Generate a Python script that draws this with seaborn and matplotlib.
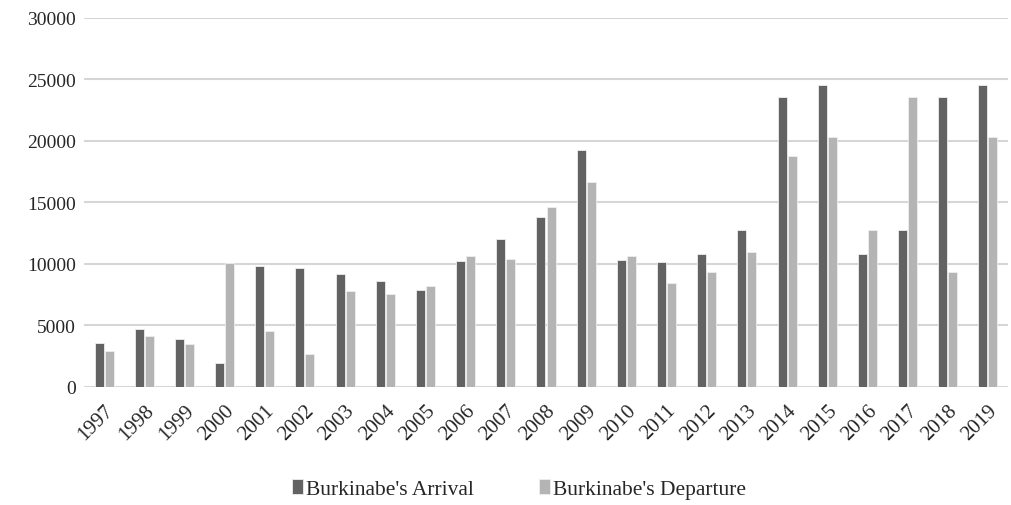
import matplotlib
matplotlib.use("Agg")
import matplotlib.pyplot as plt
import seaborn as sns
import pandas as pd

years = [str(y) for y in range(1997, 2020)]
arrivals = [3530, 4700, 3850, 1900, 9770, 9640, 9120, 8580, 7870, 10180, 11970,
            13820, 19270, 10260, 10150, 10750, 12760, 23530, 24560, 10750, 12760,
            23530, 24560]
departures = [2930, 4100, 3420, 10040, 4530, 2660, 7760, 7550, 8220, 10610, 10420,
              14580, 16670, 10640, 8440, 9340, 10940, 18730, 20300, 12760, 23530,
              9340, 20300]
series_names = ["Burkinabe's Arrival", "Burkinabe's Departure"]
colors = ["#626262", "#b4b4b4"]

df = pd.DataFrame({
    "year": years * 2,
    "value": arrivals + departures,
    "series": [series_names[0]] * len(years) + [series_names[1]] * len(years),
})

sns.set_theme(style="white")
plt.rcParams["font.family"] = ["Liberation Serif", "DejaVu Serif"]

fig = plt.figure(figsize=(10.12, 5.06), dpi=100)
ax = fig.add_axes([84 / 1012, 1 - 387.5 / 506, (1008 - 84) / 1012, (387.5 - 19) / 506])

sns.barplot(data=df, x="year", y="value", hue="series", palette=colors,
            width=0.5, gap=0.1, edgecolor="#eeeeee", linewidth=0.6, ax=ax)

ax.set_ylim(0, 30000)
ax.set_xlim(-0.5, len(years) - 0.5)
ax.set_yticks(range(0, 30001, 5000))
ax.yaxis.grid(True, color="#d6d6d6", linewidth=1.5)
ax.set_axisbelow(True)
for s in ax.spines.values():
    s.set_visible(False)
ax.set_xlabel("")
ax.set_ylabel("")
ax.tick_params(axis="both", length=0, labelsize=14, colors="#262626")
ax.tick_params(axis="y", pad=6)
ax.tick_params(axis="x", pad=10, labelsize=15)
plt.setp(ax.get_xticklabels(), rotation=45, ha="right", rotation_mode="anchor")

handles, labels = ax.get_legend_handles_labels()
ax.legend_.remove()
fig.legend(handles, labels, loc="center", bbox_to_anchor=(0.513, 1 - 490 / 506),
           ncol=2, frameon=False, fontsize=15.5, handlelength=0.5, handleheight=0.7,
           handletextpad=0.15, columnspacing=3.0)

fig.savefig("out.png", dpi=100)
